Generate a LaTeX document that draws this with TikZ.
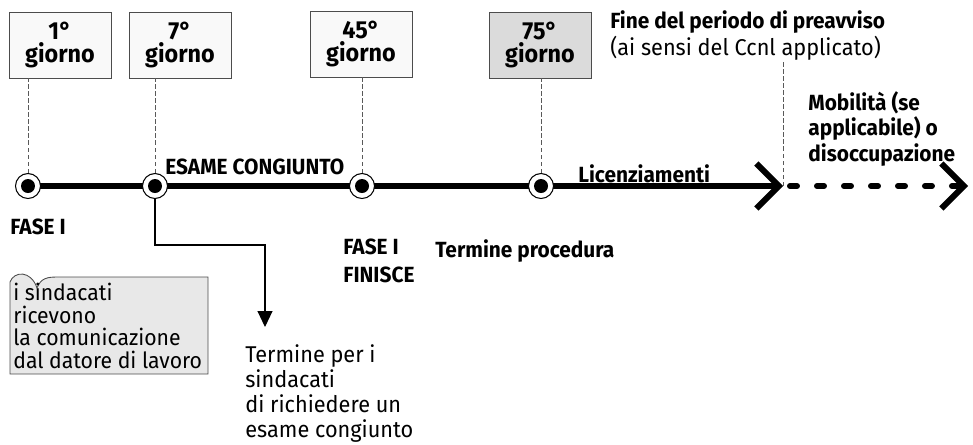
\documentclass[tikz,border=0pt]{standalone}
\usepackage{fontspec}
\setmainfont{Fira Sans}[FakeStretch=0.95]
\usetikzlibrary{arrows.meta,backgrounds,positioning}

\newcommand\lblsize{\fontsize{12.5}{15.3}\selectfont}
\newcommand\regsize{\fontsize{13}{15.3}\selectfont}
\newcommand\daysize{\fontsize{14}{13.2}\selectfont}

\tikzset{
  daybox/.style={draw=black!70, line width=0.5pt, fill=gray!5, minimum width=2.04cm,
    minimum height=1.32cm, align=center, inner sep=0pt, font=\daysize\bfseries},
  milestone/.style={circle, draw=black, line width=0.6pt, fill=white, minimum size=0.5cm,
    inner sep=0pt, path picture={\fill[black] (path picture bounding box.center) circle (0.14cm);}},
  guide/.style={black!65, line width=0.45pt, dash pattern=on 2.5pt off 1.5pt},
  txt/.style={anchor=north west, inner sep=0pt, align=left, font=\regsize},
  hdr/.style={txt, font=\lblsize\bfseries},
  timeline/.style={line width=3.4pt, -{Straight Barb[length=0.45cm,width=0.9cm]}},
}

\begin{document}
\begin{tikzpicture}[x=0.02cm, y=-0.02cm]
  \useasboundingbox (0,0) rectangle (973,444);

  % giorni
  \node[daybox] (d1) at (60,45) {1°\\giorno};
  \node[daybox] (d7) at (180,45) {7°\\giorno};
  \node[daybox] (d45) at (361,44) {45°\\giorno};
  \node[daybox, fill=gray!28] (d75) at (540,45) {75°\\giorno};

  % tappe
  \node[milestone] (p1) at (28,186) {};
  \node[milestone] (p7) at (155,186) {};
  \node[milestone] (p45) at (362,186) {};
  \node[milestone] (p75) at (541,186) {};
  \coordinate (fine) at (783,186);
  \coordinate (oltre) at (968,186);

  \begin{scope}[on background layer]
    \draw[timeline] (p1.center) -- (fine);
    \draw[timeline, line cap=round, dash pattern=on 0.14cm off 0.4cm] ([xshift=0.14cm]fine) -- (oltre);
  \end{scope}

  % testi sopra
  \node[txt] (preavviso) at (610,10) {\textbf{\lblsize Fine del periodo di preavviso}\\(ai sensi del Ccnl applicato)};
  \node[hdr, font=\fontsize{12.5}{14.5}\selectfont\bfseries] (mobilita) at (808,91) {Mobilità (se\\applicabile) o\\disoccupazione};
  \node[hdr] (esame) at (165,159) {ESAME CONGIUNTO};
  \node[hdr] (licenz) at (578,164) {Licenziamenti};

  \draw[guide] (p1) -- (p1 |- d1.south);
  \draw[guide] (p7) -- (p7 |- d7.south);
  \draw[guide] (p45) -- (p45 |- d45.south);
  \draw[guide] (p75) -- (p75 |- d75.south);
  \draw[guide] (fine) -- (fine |- preavviso.south);

  % testi sotto
  \node[hdr] (fase1) at (10,219) {FASE I};
  \draw[black!70, line width=0.5pt, fill=gray!18]
    (10,282) .. controls (14,271) and (31,270) .. (37,288)
    .. controls (41,278) and (47,277) .. (58,277)
    -- (208,277) -- (208,374) -- (10,374) -- cycle;
  \node[txt, font=\fontsize{12.7}{12.8}\selectfont] (avvio) at (13,283)
    {i sindacati\\ricevono\\la comunicazione\\dal datore di lavoro};

  \node[hdr, font=\fontsize{12.5}{15.9}\selectfont\bfseries] (fasefin) at (343,239) {FASE I\\FINISCE};
  \node[hdr] (termproc) at (435,239) {Termine procedura};

  \coordinate (svolta) at (265,245);
  \coordinate (scadenza) at (265,327);
  \draw[line width=0.6pt, -{Triangle[length=0.32cm,width=0.3cm]}] (p7.south) |- (svolta) -- (scadenza);
  \node[txt, font=\fontsize{13}{14.2}\selectfont] (termsind) at (245,344)
    {Termine per i\\sindacati\\di richiedere un\\esame congiunto};
\end{tikzpicture}
\end{document}
